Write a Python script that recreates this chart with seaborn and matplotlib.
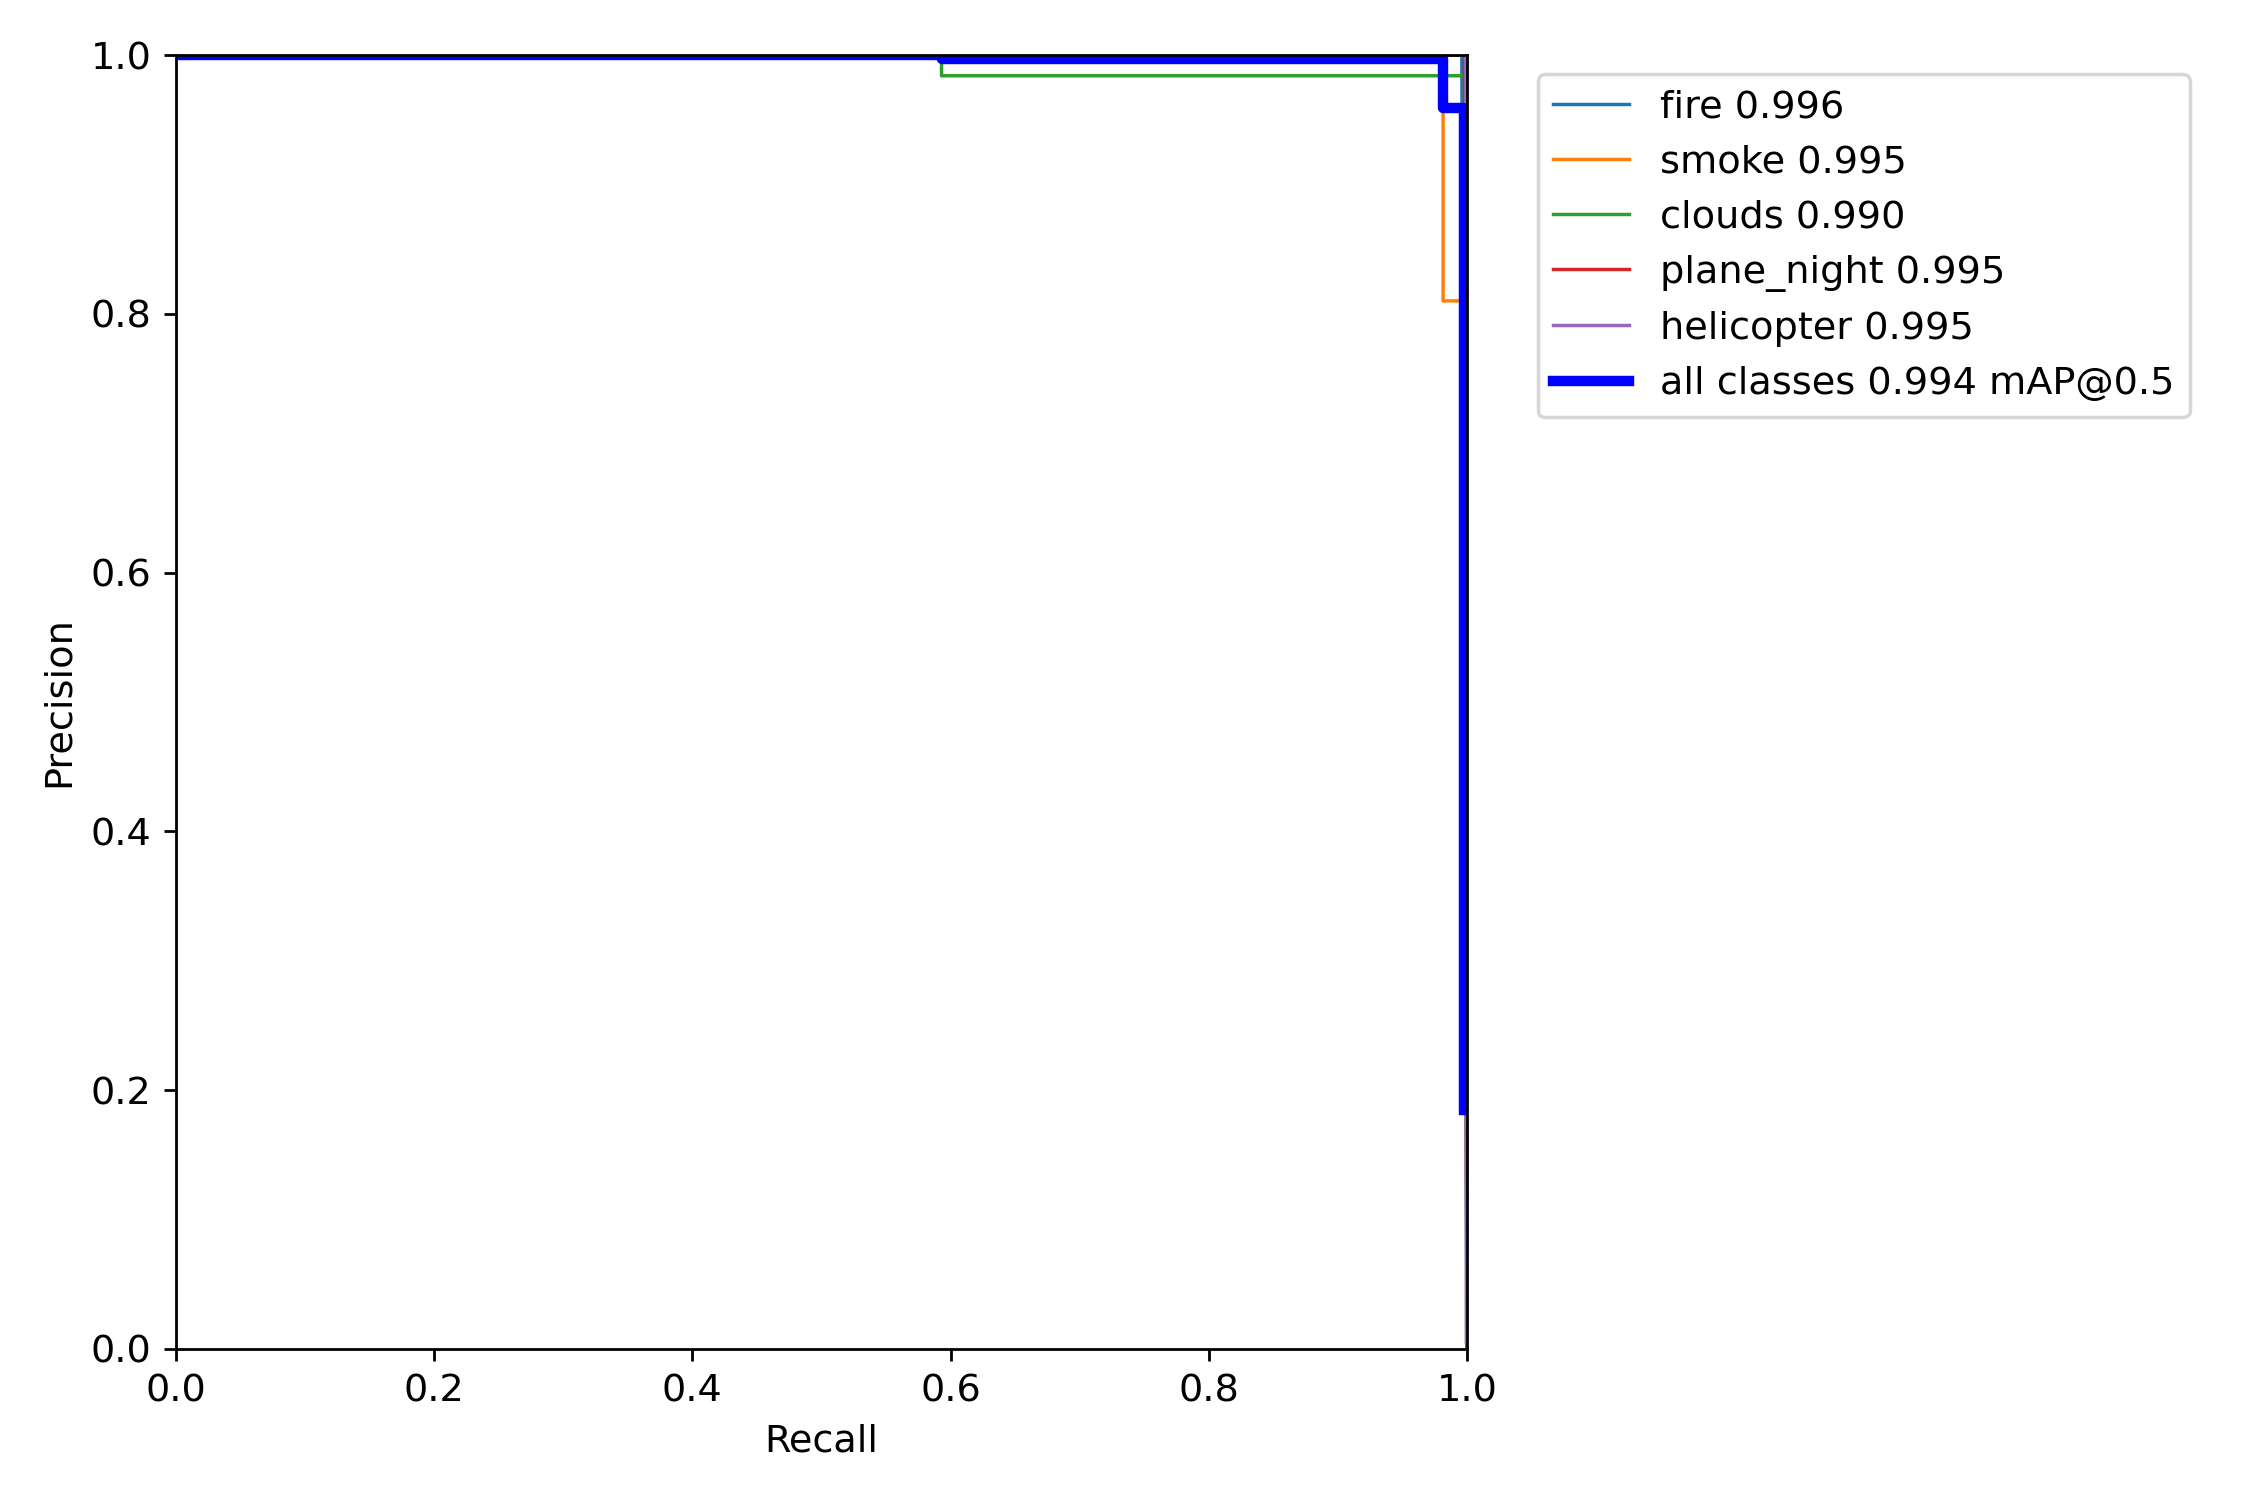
import numpy as np
import pandas as pd
import matplotlib
matplotlib.use("Agg")
import matplotlib.pyplot as plt
import seaborn as sns

plt.rcParams['font.family'] = ['DejaVu Sans']
plt.rcParams['font.size'] = 11

# Per-class PR curve breakpoints (recall, precision)
fire_recall = [0.0, 0.996, 1.0]
fire_precision = [1.0, 1.0, 0.0]

smoke_recall = [0.0, 0.9815, 0.9815, 0.998, 1.0]
smoke_precision = [1.0, 1.0, 0.81, 0.81, 0.0]

clouds_recall = [0.0, 0.593, 0.593, 0.998, 1.0]
clouds_precision = [1.0, 1.0, 0.984, 0.984, 0.0]

plane_night_recall = [0.0, 0.998, 1.0]
plane_night_precision = [1.0, 1.0, 0.0]

helicopter_recall = [0.0, 0.999, 0.9995]
helicopter_precision = [1.0, 1.0, 0.005]

all_recall = [0.0, 0.593, 0.593, 0.9815, 0.9815, 0.998, 0.998]
all_precision = [1.0, 1.0, 0.997, 0.997, 0.959, 0.959, 0.185]

class_names = ["fire", "smoke", "clouds", "plane_night", "helicopter"]
class_ap = [0.996, 0.995, 0.990, 0.995, 0.995]
map50 = 0.994

curves = [
    (fire_recall, fire_precision),
    (smoke_recall, smoke_precision),
    (clouds_recall, clouds_precision),
    (plane_night_recall, plane_night_precision),
    (helicopter_recall, helicopter_precision),
]
colors = ["#1f77b4", "#ff7f0e", "#2ca02c", "#d62728", "#9467bd"]

fig = plt.figure(figsize=(9, 6), dpi=250)
ax = fig.add_axes([0.0782, 0.1007, 0.652 - 0.0782, 0.9633 - 0.1007])

for (r, p), name, ap, c in zip(curves, class_names, class_ap, colors):
    df = pd.DataFrame({"Recall": r, "Precision": p})
    sns.lineplot(data=df, x="Recall", y="Precision", ax=ax, sort=False,
                 estimator=None, linewidth=1, color=c, label=f"{name} {ap:.3f}")

df_all = pd.DataFrame({"Recall": all_recall, "Precision": all_precision})
sns.lineplot(data=df_all, x="Recall", y="Precision", ax=ax, sort=False,
             estimator=None, linewidth=3, color="blue",
             label=f"all classes {map50:.3f} mAP@0.5")

ax.set_xlabel("Recall")
ax.set_ylabel("Precision")
ax.set_xlim(0, 1)
ax.set_ylim(0, 1)
ax.legend(bbox_to_anchor=(1.04, 1), loc="upper left")

fig.savefig("out.png", dpi=250)
